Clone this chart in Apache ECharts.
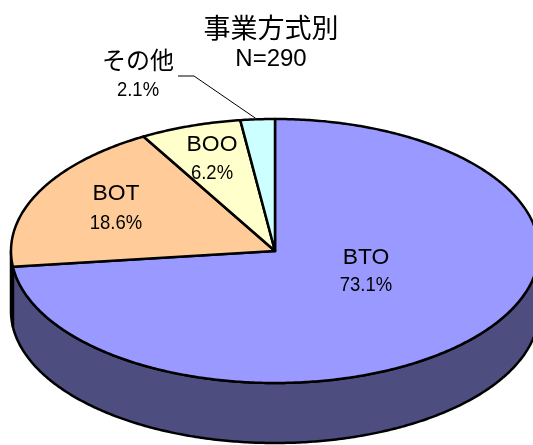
<!DOCTYPE html>
<html><head><meta charset="utf-8">
<style>html,body{margin:0;padding:0;background:#fff}#c{width:533px;height:445px}</style>
<script src="https://cdn.jsdelivr.net/npm/echarts@6/dist/echarts.min.js"></script>
</head><body><div id="c"></div>
<script>
var categories = ['BTO', 'BOT', 'BOO', 'その他'];
var values = [73.1, 18.6, 6.2, 2.1];
var titleText = '事業方式別';
var subtitleText = 'N=290';

var topColors = ['#9999FF', '#FFCC99', '#FFFFCC', '#CCFFFF'];
var wallColors = ['#4D4D80', '#806650', '#808066', '#668080'];
var labelPos = [[366, 271.5], [116, 208.5], [212, 159], [138, 76]];
var pctGap = [14, 15, 14, 14];
var CX = 275, CY = 251, RX = 264, RY = 132, DEPTH = 60;
var LW = 2.5;
var SANS = '"Liberation Sans","Noto Sans CJK JP",sans-serif';
var total = values.reduce(function (a, b) { return a + b; }, 0);

function startAngle(i) {
  var s = 0;
  for (var k = 0; k < i; k++) s += values[k];
  return s / total * Math.PI * 2;
}
function pt(t, dy) {
  return [CX + RX * Math.sin(t), CY - RY * Math.cos(t) + (dy || 0)];
}
function arc(a, b, dy) {
  var out = [], n = Math.max(2, Math.ceil((b - a) / 0.01));
  for (var i = 0; i <= n; i++) out.push(pt(a + (b - a) * i / n, dy));
  return out;
}
function renderWall(params, api) {
  var i = params.dataIndex;
  var a = startAngle(i), b = a + api.value(0) / total * Math.PI * 2;
  var lo = Math.max(a, Math.PI / 2), hi = Math.min(b, Math.PI * 1.5);
  if (hi <= lo) return { type: 'group', children: [] };
  var top = arc(lo, hi, 0), bottom = arc(lo, hi, DEPTH).reverse();
  return {
    type: 'polygon', shape: { points: top.concat(bottom) },
    style: { fill: wallColors[i], stroke: '#000', lineWidth: LW, lineJoin: 'round' }
  };
}
function renderTop(params, api) {
  var i = params.dataIndex;
  var a = startAngle(i), b = a + api.value(0) / total * Math.PI * 2;
  return {
    type: 'polygon', shape: { points: [[CX, CY]].concat(arc(a, b, 0)) },
    style: { fill: topColors[i], stroke: '#000', lineWidth: LW, lineJoin: 'round' }
  };
}
function narrowText(text, x, y, size, sx) {
  return {
    type: 'text', x: x, y: y, scaleX: sx,
    style: { text: text, x: 0, y: 0, align: 'center', verticalAlign: 'middle', fill: '#000', font: size + 'px ' + SANS }
  };
}
function renderLabel(params, api) {
  var i = params.dataIndex, p = labelPos[i], g = pctGap[i];
  var kids = [
    i === 3 ? narrowText(categories[i], p[0], p[1] - g, 24, 1) : narrowText(categories[i], p[0], p[1] - g, 22, 1.04),
    narrowText(api.value(0).toFixed(1) + '%', p[0], p[1] + g, 21, 0.88)
  ];
  if (i === 3) {
    var mid = startAngle(i) + api.value(0) / total * Math.PI;
    var e = pt(mid, 0);
    kids.push({ type: 'polyline', shape: { points: [[178, 76], [194, 76], [e[0] - 2, e[1] - 1]] },
      style: { fill: null, stroke: '#000', lineWidth: 1 } });
  }
  return { type: 'group', children: kids };
}
var seriesData = values.map(function (v, i) { return { name: categories[i], value: [v] }; });
var chart = echarts.init(document.getElementById('c'), null, { renderer: 'canvas' });
chart.setOption({
  animation: false,
  backgroundColor: '#fff',
  title: {
    text: titleText, subtext: subtitleText, left: 266, top: 8, textAlign: 'center', itemGap: 3,
    textStyle: { fontFamily: '"Noto Sans CJK JP",sans-serif', fontSize: 27, fontWeight: 'normal', color: '#000', lineHeight: 30 },
    subtextStyle: { fontFamily: SANS, fontSize: 24, color: '#000', lineHeight: 26 }
  },
  series: [
    { type: 'custom', coordinateSystem: 'none', clip: false, z: 1, data: seriesData, renderItem: renderWall },
    { type: 'custom', coordinateSystem: 'none', clip: false, z: 2, data: seriesData, renderItem: renderTop },
    { type: 'custom', coordinateSystem: 'none', clip: false, z: 3, data: seriesData, renderItem: renderLabel }
  ]
});
</script></body></html>
